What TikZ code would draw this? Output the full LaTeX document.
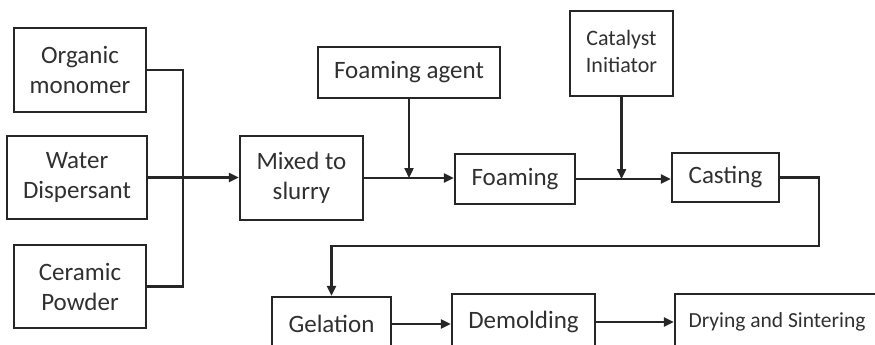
\documentclass[tikz,border=0pt]{standalone}
\usepackage{fontspec}
\setmainfont{Carlito}
\usetikzlibrary{arrows.meta}
\definecolor{inkgray}{HTML}{262626}
\definecolor{textgray}{HTML}{303030}

\begin{document}
\begin{tikzpicture}[x=1pt,y=-1pt,
    >={Triangle[length=10pt,width=9pt]}]
                        \tikzstyle{stage}=[draw=inkgray,line width=2.3pt,inner sep=0pt,align=center,
                            text=textgray,font=\fontsize{25}{30}\selectfont]
                        \tikzstyle{link}=[draw=inkgray,line width=2.3pt]
                        \clip (0,0) rectangle (875,345);
                        \node[stage,minimum width=132pt,minimum height=84pt] (organic) at (80,70) {Organic\\monomer};
                        \node[stage,minimum width=140pt,minimum height=83pt] (water) at (77,177.5) {Water\\Dispersant};
                        \node[stage,minimum width=132pt,minimum height=83pt] (ceramic) at (80,286.5) {Ceramic\\Powder};
                        \node[stage,minimum width=123pt,minimum height=84pt] (slurry) at (301.5,178) {Mixed to\\slurry};
                        \node[stage,minimum width=182pt,minimum height=51pt] (agent) at (409,72.5) {Foaming agent};
                        \node[stage,minimum width=120pt,minimum height=50pt] (foaming) at (515,179) {Foaming};
                        \node[stage,minimum width=103pt,minimum height=85pt,
                            font=\fontsize{22}{27}\selectfont] (catalyst) at (621.5,53.5)
                            {\raisebox{6pt}{\begin{tabular}{@{}c@{}}Catalyst\\Initiator\end{tabular}}};
                        \node[stage,minimum width=107pt,minimum height=49pt] (casting) at (725.5,177.5) {Casting};
                        \node[stage,minimum width=119pt,minimum height=54pt] (gelation) at (331.5,324) {Gelation};
                        \node[stage,minimum width=143pt,minimum height=56pt] (demolding) at (523.5,322) {Demolding};
                        \node[stage,minimum width=204pt,minimum height=56pt,
                            font=\fontsize{21.5}{25}\selectfont] (drying) at (777,322) {Drying and Sintering};
                        \coordinate (bus) at (183,178);
                        \coordinate (back) at (819,246);
                        \draw[link] (organic.east) -| (bus) |- (ceramic.east);
                        \draw[link,->] (water.east) -- (water.east -| slurry.west);
                        \draw[link,->] (slurry.east) -- (slurry.east -| foaming.west);
                        \draw[link,->] (agent.south) -- (agent.south |- slurry.east);
                        \draw[link,->] (foaming.east) -- (foaming.east -| casting.west);
                        \draw[link,->] (catalyst.south) -- (catalyst.south |- foaming.east);
                        \draw[link,->] (casting.east) -| (back) -| (gelation.north);
                        \draw[link,->] (gelation.east) -- (gelation.east -| demolding.west);
                        \draw[link,->] (demolding.east) -- (demolding.east -| drying.west);
                    \end{tikzpicture}
\end{document}
